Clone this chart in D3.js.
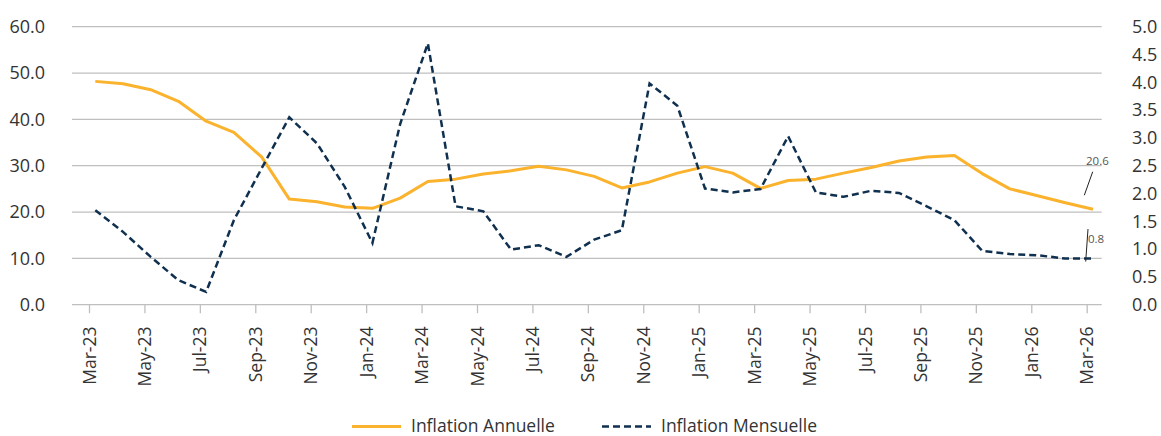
<!DOCTYPE html>
<html>
<head>
<meta charset="utf-8">
<script src="https://cdn.jsdelivr.net/npm/d3@7/dist/d3.min.js"></script>
<style>
  html, body { margin: 0; padding: 0; background: #ffffff; }
  svg { display: block; font-family: "Open Sans", "Noto Sans", sans-serif; }
</style>
</head>
<body>
<svg id="chart" width="1161" height="436"></svg>
<script>
const months = ["Mar-23","Apr-23","May-23","Jun-23","Jul-23","Aug-23","Sep-23","Oct-23","Nov-23","Dec-23",
  "Jan-24","Feb-24","Mar-24","Apr-24","May-24","Jun-24","Jul-24","Aug-24","Sep-24","Oct-24","Nov-24","Dec-24",
  "Jan-25","Feb-25","Mar-25","Apr-25","May-25","Jun-25","Jul-25","Aug-25","Sep-25","Oct-25","Nov-25","Dec-25",
  "Jan-26","Feb-26","Mar-26"];
const inflationAnnuelle = [48.2,47.7,46.4,43.9,39.6,37.2,31.9,22.8,22.2,21.1,
  20.8,23.0,26.6,27.1,28.2,28.9,29.9,29.1,27.7,25.2,26.5,28.4,
  29.8,28.4,25.1,26.8,27.1,28.4,29.6,31.0,31.9,32.2,28.3,25.0,
  23.5,22.0,20.6];
const inflationMensuelle = [1.70,1.31,0.86,0.44,0.23,1.52,2.45,3.37,2.90,2.12,
  1.11,3.25,4.70,1.77,1.68,0.99,1.07,0.86,1.17,1.34,3.98,3.58,
  2.09,2.02,2.08,3.03,2.02,1.94,2.05,2.01,1.77,1.52,0.97,0.91,
  0.89,0.83,0.83];
const leftTicks = [0,10,20,30,40,50,60];
const rightTicks = [0,0.5,1,1.5,2,2.5,3,3.5,4,4.5,5];
const seriesNames = ["Inflation Annuelle","Inflation Mensuelle"];
const endLabels = ["20.6","0.8"];

const svg = d3.select("#chart");
const plotLeft = 72, plotRight = 1101.7, plotTop = 26.7, plotBottom = 304.7;
const orange = "#FBB22C", navy = "#10304F", grid = "#BFBFBF";

const x = d3.scaleLinear().domain([0, months.length - 1]).range([95.3, 1093]);
const tickShift = -5.8;
const yL = d3.scaleLinear().domain([0, 60]).range([plotBottom, plotTop]);
const yR = d3.scaleLinear().domain([0, 5]).range([plotBottom, plotTop]);

// gridlines
svg.append("g").selectAll("line").data(leftTicks).join("line")
  .attr("x1", plotLeft).attr("x2", plotRight)
  .attr("y1", d => yL(d)).attr("y2", d => yL(d))
  .attr("stroke", grid).attr("stroke-width", 1.3);

// x ticks
const tickIdx = months.map((m, i) => i).filter(i => i % 2 === 0);
svg.append("g").selectAll("line").data(tickIdx).join("line")
  .attr("x1", i => x(i) + tickShift).attr("x2", i => x(i) + tickShift)
  .attr("y1", plotBottom).attr("y2", plotBottom + 8.5)
  .attr("stroke", grid).attr("stroke-width", 1.3);

svg.append("g").selectAll("text").data(tickIdx).join("text")
  .attr("transform", i => `translate(${x(i) + tickShift},326.5) rotate(-90)`)
  .attr("text-anchor", "end").attr("dy", "0.35em")
  .attr("font-size", 17.5).attr("fill", "#333")
  .text(i => months[i]);

// left axis labels
svg.append("g").selectAll("text").data(leftTicks).join("text")
  .attr("x", 45).attr("y", d => yL(d)).attr("dy", "0.35em")
  .attr("text-anchor", "end").attr("font-size", 18).attr("fill", "#333")
  .text(d => d3.format(".1f")(d));

// right axis labels
svg.append("g").selectAll("text").data(rightTicks).join("text")
  .attr("x", 1132).attr("y", d => yR(d)).attr("dy", "0.35em")
  .attr("text-anchor", "start").attr("font-size", 18).attr("fill", "#333")
  .text(d => d3.format(".1f")(d));

// lines
const lineL = d3.line().x((d, i) => x(i)).y(d => yL(d));
const lineR = d3.line().x((d, i) => x(i)).y(d => yR(d));

svg.append("path").datum(inflationAnnuelle).attr("d", lineL)
  .attr("fill", "none").attr("stroke", orange).attr("stroke-width", 3)
  .attr("stroke-linejoin", "round");
svg.append("path").datum(inflationMensuelle).attr("d", lineR)
  .attr("fill", "none").attr("stroke", navy).attr("stroke-width", 2.5)
  .attr("stroke-dasharray", "7,4");

// end labels with leader lines
const last = months.length - 1;
svg.append("line").attr("x1", x(last) - 0.3).attr("y1", yL(inflationAnnuelle[last]) - 37.5)
  .attr("x2", x(last) - 8.7).attr("y2", yL(inflationAnnuelle[last]) - 14)
  .attr("stroke", "#222").attr("stroke-width", 1);
svg.append("text").attr("x", x(last) - 7).attr("y", yL(inflationAnnuelle[last]) - 44)
  .attr("font-size", 11.5).attr("fill", "#555").text(endLabels[0]);

svg.append("line").attr("x1", x(last) - 7.3).attr("y1", yR(inflationMensuelle[last]) + 3)
  .attr("x2", x(last) - 5).attr("y2", yR(inflationMensuelle[last]) - 29.5)
  .attr("stroke", "#222").attr("stroke-width", 1);
svg.append("text").attr("x", x(last) - 5).attr("y", yR(inflationMensuelle[last]) - 16)
  .attr("font-size", 11.5).attr("fill", "#555").text(endLabels[1]);

// legend
const legend = svg.append("g");
const legItems = [
  {name: seriesNames[0], color: orange, dash: null, x0: 352},
  {name: seriesNames[1], color: navy, dash: "7,4", x0: 602}
];
legItems.forEach(it => {
  legend.append("line").attr("x1", it.x0).attr("x2", it.x0 + 49)
    .attr("y1", 426.5).attr("y2", 426.5)
    .attr("stroke", it.color).attr("stroke-width", it.dash ? 2.5 : 3)
    .attr("stroke-dasharray", it.dash);
  legend.append("text").attr("x", it.x0 + 59).attr("y", 426).attr("dy", "0.35em")
    .attr("font-size", 17.5).attr("fill", "#333").text(it.name);
});
</script>
</body>
</html>
